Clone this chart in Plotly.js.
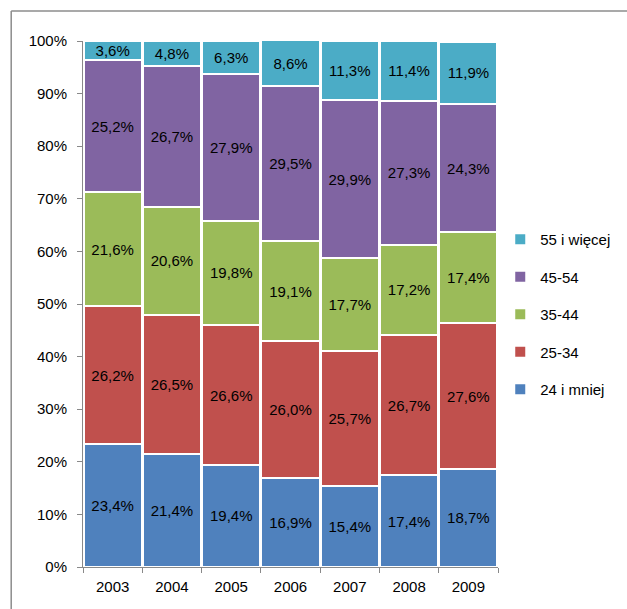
<!DOCTYPE html>
<html>
<head>
<meta charset="utf-8">
<script src="https://cdn.plot.ly/plotly-3.0.1.min.js"></script>
<style>html,body{margin:0;padding:0;background:#fff;}</style>
</head>
<body>
<div id="chart" style="width:627px;height:609px;"></div>
<script>
const years = ['2003','2004','2005','2006','2007','2008','2009'];
const s24 = [23.4, 21.4, 19.4, 16.9, 15.4, 17.4, 18.7];
const s25 = [26.2, 26.5, 26.6, 26.0, 25.7, 26.7, 27.6];
const s35 = [21.6, 20.6, 19.8, 19.1, 17.7, 17.2, 17.4];
const s45 = [25.2, 26.7, 27.9, 29.5, 29.9, 27.3, 24.3];
const s55 = [3.6, 4.8, 6.3, 8.6, 11.3, 11.4, 11.9];
const names = ['24 i mniej', '25-34', '35-44', '45-54', '55 i więcej'];
const colors = ['#4F81BD', '#C0504D', '#9BBB59', '#8064A2', '#4BACC6'];
const series = [s24, s25, s35, s45, s55];

const FONT = '"Liberation Sans", Arial, sans-serif';
const fmt = v => v.toFixed(1).replace('.', ',') + '%';

const traces = series.map((vals, i) => ({
  type: 'bar',
  name: names[i],
  x: years,
  y: vals,
  text: vals.map(fmt),
  textposition: 'inside',
  insidetextanchor: 'middle',
  textangle: 0,
  constraintext: 'none',
  textfont: {family: FONT, size: 15, color: '#000'},
  marker: {color: colors[i], line: {color: '#ffffff', width: 2}},
  legendgroup: 'g' + i,
  legendrank: 100 - i,
  hoverinfo: 'skip'
}));

const layout = {
  width: 627, height: 609,
  margin: {l: 83, r: 128, t: 41, b: 42},
  barmode: 'stack',
  bargap: 0.02,
  paper_bgcolor: '#ffffff',
  plot_bgcolor: '#ffffff',
  font: {family: FONT, size: 15, color: '#000'},
  uniformtext: {minsize: 15, mode: 'show'},
  xaxis: {
    type: 'category',
    showgrid: false,
    showline: true, linecolor: '#898989', linewidth: 1,
    ticks: 'outside', tickson: 'boundaries', ticklen: 5, tickcolor: '#898989',
    ticklabelstandoff: 6,
    tickfont: {family: FONT, size: 15, color: '#000'},
    zeroline: false
  },
  yaxis: {
    range: [0, 100],
    dtick: 10,
    ticksuffix: '%',
    showgrid: false,
    showline: true, linecolor: '#898989', linewidth: 1,
    ticks: 'outside', ticklen: 5, tickcolor: '#898989',
    ticklabelstandoff: 7,
    tickfont: {family: FONT, size: 15, color: '#000'},
    zeroline: false
  },
  legend: {
    x: 1.003, xanchor: 'left',
    y: 0.48, yanchor: 'middle',
    bgcolor: 'rgba(0,0,0,0)',
    traceorder: 'grouped',
    tracegroupgap: 15,
    font: {family: FONT, size: 15, color: '#000'},
    itemwidth: 30
  },
  showlegend: true,
  shapes: [
    {type: 'line', xref: 'paper', yref: 'paper', x0: -0.173, x1: 1.4, y0: 1.057, y1: 1.057,
     line: {color: '#8c8c8c', width: 1.5}, layer: 'below'},
    {type: 'line', xref: 'paper', yref: 'paper', x0: -0.173, x1: -0.173, y0: 1.057, y1: -0.2,
     line: {color: '#8c8c8c', width: 1.5}, layer: 'below'}
  ]
};

Plotly.newPlot('chart', traces, layout, {displayModeBar: false, staticPlot: true});
</script>
</body>
</html>
